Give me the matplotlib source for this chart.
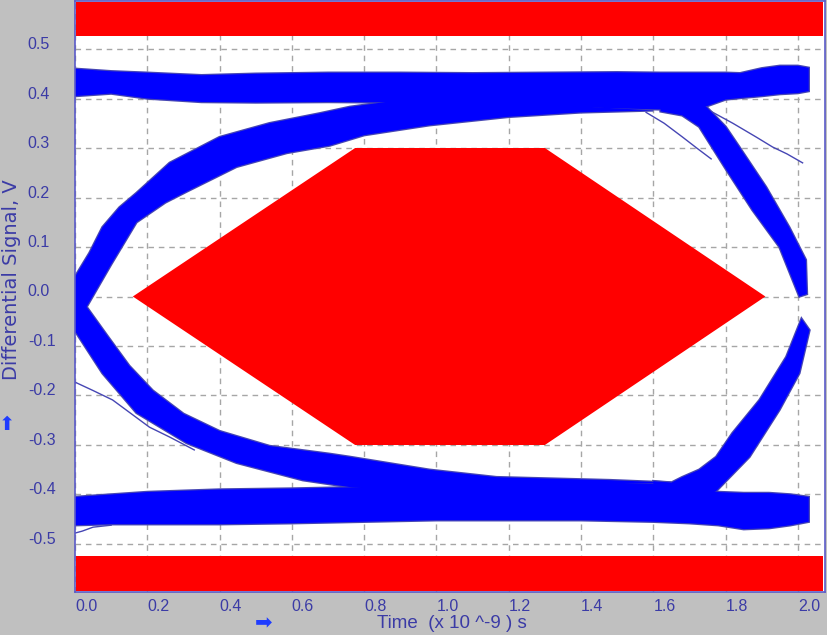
import matplotlib.pyplot as plt
import numpy as np

plt.rcParams["font.family"] = ["Liberation Sans", "DejaVu Sans"]

BLUE = "#0000FF"
EDGE = "#4646B4"
RED = "#FF0000"
TXT = "#3b3ba6"
ARROW = "#1f3cff"
BG = "#C0C0C0"

# axis ticks (time in ns, differential signal in V)
x_ticks = [0.0, 0.2, 0.4, 0.6, 0.8, 1.0, 1.2, 1.4, 1.6, 1.8, 2.0]
x_tick_labels = ["0.0", "0.2", "0.4", "0.6", "0.8", "1.0", "1.2", "1.4", "1.6", "1.8", "2.0"]
y_ticks = [0.5, 0.4, 0.3, 0.2, 0.1, 0.0, -0.1, -0.2, -0.3, -0.4, -0.5]
y_tick_labels = ["0.5", "0.4", "0.3", "0.2", "0.1", "0.0", "-0.1", "-0.2", "-0.3", "-0.4", "-0.5"]

# eye mask (hexagon + top/bottom limits)
mask_x = [0.16, 0.775, 1.30, 1.91, 1.30, 0.775]
mask_y = [0.0, 0.30, 0.30, 0.0, -0.30, -0.30]
mask_top = 0.526
mask_bot = -0.524

# high rail envelope
top_x = [0.00, 0.10, 0.20, 0.35, 0.50, 0.70, 0.90, 1.10, 1.30, 1.50, 1.62, 1.70, 1.75, 1.80, 1.84, 1.90, 1.95, 2.00, 2.03]
top_hi = [0.460, 0.455, 0.452, 0.447, 0.450, 0.452, 0.452, 0.451, 0.452, 0.453, 0.452, 0.452, 0.452, 0.452, 0.451, 0.461, 0.466, 0.466, 0.462]
top_lo = [0.405, 0.410, 0.400, 0.393, 0.392, 0.393, 0.392, 0.388, 0.385, 0.380, 0.378, 0.378, 0.385, 0.398, 0.401, 0.405, 0.409, 0.411, 0.415]

# low rail envelope
bot_x = [0.00, 0.10, 0.20, 0.40, 0.60, 0.80, 1.00, 1.20, 1.40, 1.60, 1.70, 1.78, 1.85, 1.92, 1.98, 2.03]
bot_hi = [-0.405, -0.400, -0.395, -0.390, -0.388, -0.385, -0.380, -0.378, -0.378, -0.378, -0.385, -0.395, -0.397, -0.397, -0.400, -0.405]
bot_lo = [-0.462, -0.460, -0.460, -0.460, -0.458, -0.455, -0.452, -0.452, -0.452, -0.455, -0.458, -0.462, -0.470, -0.468, -0.462, -0.455]

# rising edge from left crossing up to high rail
rise_up_x = [0.0, 0.04, 0.076, 0.123, 0.17, 0.262, 0.40, 0.538, 0.677, 0.76, 0.90, 1.00]
rise_up_y = [0.04, 0.088, 0.14, 0.18, 0.209, 0.27, 0.322, 0.35, 0.37, 0.383, 0.397, 0.40]
rise_lo_x = [0.0, 0.032, 0.10, 0.17, 0.25, 0.309, 0.447, 0.586, 0.705, 0.80, 0.98, 1.20, 1.40, 1.60]
rise_lo_y = [-0.03, -0.021, 0.065, 0.15, 0.19, 0.212, 0.262, 0.29, 0.305, 0.326, 0.346, 0.363, 0.372, 0.376]

# falling edge from left crossing down to low rail
fall_up_x = [0.0, 0.032, 0.09, 0.15, 0.215, 0.30, 0.40, 0.538, 0.705, 0.76, 0.98, 1.166, 1.48, 1.65]
fall_up_y = [0.0, -0.021, -0.08, -0.14, -0.19, -0.237, -0.272, -0.302, -0.318, -0.324, -0.35, -0.365, -0.371, -0.376]
fall_lo_x = [0.0, 0.004, 0.076, 0.17, 0.309, 0.447, 0.63, 0.76, 0.90]
fall_lo_y = [-0.072, -0.074, -0.155, -0.235, -0.296, -0.336, -0.371, -0.385, -0.392]

# right falling edge (high rail -> right crossing)
rfall_l_x = [1.62, 1.62, 1.68, 1.727, 1.802, 1.874, 1.949, 2.004]
rfall_l_y = [0.40, 0.374, 0.366, 0.343, 0.256, 0.175, 0.10, 0.0]
rfall_r_x = [1.70, 1.747, 1.80, 1.838, 1.912, 1.976, 2.022, 2.025]
rfall_r_y = [0.41, 0.383, 0.343, 0.302, 0.221, 0.14, 0.074, 0.005]

# right rising edge (low rail -> right crossing)
rrise_l_x = [1.60, 1.60, 1.65, 1.68, 1.727, 1.774, 1.819, 1.894, 1.968, 2.010]
rrise_l_y = [-0.40, -0.373, -0.376, -0.365, -0.350, -0.324, -0.276, -0.209, -0.122, -0.045]
rrise_r_x = [1.72, 1.774, 1.866, 1.949, 2.004, 2.032]
rrise_r_y = [-0.41, -0.393, -0.324, -0.229, -0.155, -0.068]

# single stray traces
stray = [
    ([0.0, 0.05, 0.104, 0.206, 0.262, 0.33], [-0.173, -0.19, -0.209, -0.264, -0.284, -0.31]),
    ([0.0, 0.02, 0.05, 0.10], [-0.478, -0.474, -0.466, -0.462]),
    ([1.747, 1.82, 1.885, 1.93, 1.97, 2.013], [0.379, 0.35, 0.322, 0.302, 0.288, 0.27]),
    ([1.58, 1.63, 1.681, 1.72, 1.76], [0.372, 0.35, 0.322, 0.30, 0.278]),
]

fig = plt.figure(figsize=(8.28, 6.35), dpi=100, facecolor=BG)
ax = fig.add_axes([75 / 828, 43 / 635, 750 / 828, 591 / 635])
ax.set_facecolor("white")
ax.set_xlim(0, 2.075)
ax.set_ylim(-0.597, 0.597)

# grid
for xv in x_ticks:
    ax.axvline(xv, color="#A6A6A6", lw=1.0, ls=(0, (4, 3.5)), zorder=0)
for yv in y_ticks:
    ax.axhline(yv, color="#A6A6A6", lw=1.0, ls=(0, (4, 3.5)), zorder=0)

# mask
ax.fill(mask_x, mask_y, color=RED, lw=0, zorder=1)
ax.axhspan(mask_top, 0.594, xmin=0.002, xmax=0.997, color=RED, lw=0, zorder=1)
ax.axhspan(-0.594, mask_bot, xmin=0.002, xmax=0.997, color=RED, lw=0, zorder=1)

# eye traces as envelopes
polys = [
    (np.r_[top_x, top_x[::-1]], np.r_[top_hi, top_lo[::-1]]),
    (np.r_[bot_x, bot_x[::-1]], np.r_[bot_hi, bot_lo[::-1]]),
    (np.r_[rise_up_x, rise_lo_x[::-1]], np.r_[rise_up_y, rise_lo_y[::-1]]),
    (np.r_[fall_up_x, fall_lo_x[::-1]], np.r_[fall_up_y, fall_lo_y[::-1]]),
    (np.r_[rfall_l_x, rfall_r_x[::-1]], np.r_[rfall_l_y, rfall_r_y[::-1]]),
    (np.r_[rrise_l_x, rrise_r_x[::-1]], np.r_[rrise_l_y, rrise_r_y[::-1]]),
]
for px, py in polys:
    ax.fill(px, py, facecolor="none", edgecolor=EDGE, lw=1.8, zorder=2)
for sx, sy in stray:
    ax.plot(sx, sy, color=EDGE, lw=1.0, zorder=2.5)
for px, py in polys:
    ax.fill(px, py, facecolor=BLUE, edgecolor="none", zorder=3)

# frame and ticks
for sp in ax.spines.values():
    sp.set_color("#5b5bc8")
    sp.set_linewidth(1.2)
    sp.set_zorder(5)
ax.set_xticks(x_ticks)
ax.set_xticklabels(x_tick_labels, ha="left")
ax.set_yticks(y_ticks)
ax.set_yticklabels(y_tick_labels, ha="left", va="baseline")
ax.tick_params(axis="x", length=0, pad=5, labelsize=11.5, labelcolor=TXT)
ax.tick_params(axis="y", length=0, pad=34, labelsize=11.5, labelcolor=TXT)

fig.text(12 / 828, 1 - 280 / 635, "Differential Signal, V", rotation=90,
         ha="center", va="center", fontsize=14, color=TXT, family="DejaVu Sans")
fig.text(7 / 828, 1 - 424 / 635, "\u2b06", ha="center", va="center",
         fontsize=14, color=ARROW, family="DejaVu Sans")
fig.text(452 / 828, 1 - 623 / 635, "Time  (x 10 ^-9 ) s", ha="center", va="center",
         fontsize=13.5, color=TXT)
fig.text(264 / 828, 1 - 623 / 635, "\u27a1", ha="center", va="center",
         fontsize=15, color=ARROW, family="DejaVu Sans")

fig.savefig("out.png", dpi=100, facecolor=BG)
